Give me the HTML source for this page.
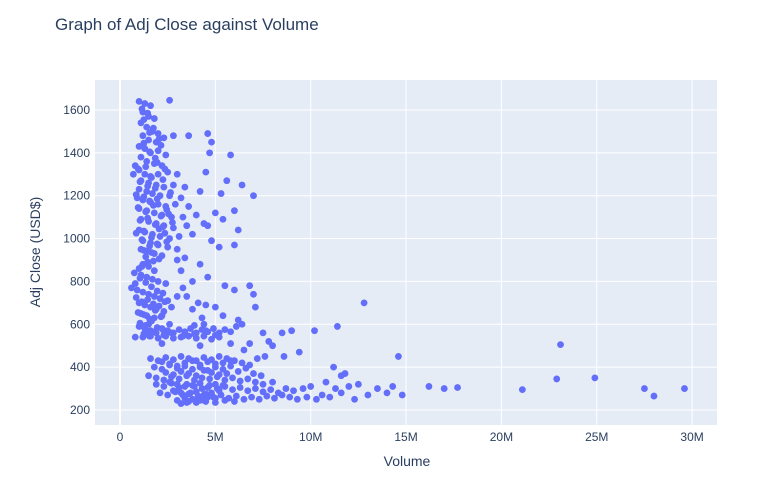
<!DOCTYPE html>
<html><head><meta charset="utf-8"><style>
body{margin:0;background:#fff;font-family:"Liberation Sans",sans-serif}
svg text{font-family:"Liberation Sans",sans-serif;fill:#2a3f5f}
</style></head><body>
<svg id="chart" width="764" height="477">
<rect x="0" y="0" width="764" height="477" fill="#fff"/>
<rect x="95" y="80" width="622" height="345" fill="#e5ecf6"/>
<g id="grid"></g><g id="pts"></g><g id="ticks"></g>
<text x="55" y="30" font-size="17">Graph of Adj Close against Volume</text>
<text x="407" y="466" font-size="14" text-anchor="middle">Volume</text>
<text x="0" y="0" font-size="14" text-anchor="middle" transform="translate(40,252) rotate(-90)">Adj Close (USD$)</text>
</svg>
<script>
const xTicks=[0,5,10,15,20,25,30];
const xTickLabels=["0","5M","10M","15M","20M","25M","30M"];
const yTicks=[200,400,600,800,1000,1200,1400,1600];
const volumesM=[1.0,1.3,1.6,2.6,1.2,1.5,1.8,1.1,1.4,1.7,2.0,1.2,1.5,1.9,2.3,2.8,1.0,1.3,1.6,2.0,2.4,1.1,1.4,1.8,2.2,0.8,1.0,1.3,1.6,2.0,2.5,3.0,0.7,1.1,1.5,1.9,2.3,2.8,3.4,1.0,1.4,1.7,2.1,2.6,3.2,0.9,1.2,1.6,2.0,2.4,2.9,3.6,1.0,1.4,1.8,2.2,2.7,3.3,4.0,1.1,1.5,1.9,2.3,2.8,3.5,4.4,1.0,1.3,1.7,2.1,2.6,3.1,3.8,1.2,1.6,2.0,2.5,3.0,1.1,1.4,1.8,2.2,
3.6,4.6,4.8,4.7,5.8,6.4,7.0,5.6,4.5,4.2,5.3,6.0,5.0,4.6,5.4,6.2,4.8,5.2,6.0,3.4,4.2,3.0,
0.6,0.8,1.0,1.2,1.5,1.8,1.1,1.4,1.7,2.0,2.4,0.9,1.2,1.5,1.8,2.1,2.5,1.0,1.3,1.6,1.9,2.3,2.7,3.0,1.1,1.4,1.8,2.2,3.3,3.8,3.5,4.1,4.5,5.0,5.5,6.0,6.8,7.0,7.1,5.4,4.3,6.2,3.2,4.6,3.8,
1.0,1.3,1.6,1.9,2.2,2.5,2.8,3.1,3.4,3.7,4.0,4.3,4.6,4.9,5.2,5.5,5.8,6.1,0.8,1.2,1.6,2.0,2.4,2.8,3.2,3.6,4.0,4.4,4.8,5.2,1.5,2.6,3.9,4.4,6.4,7.5,8.0,8.5,9.0,10.2,11.4,12.8,7.8,6.8,9.4,8.6,2.2,4.2,5.8,6.5,
1.6,2.0,2.4,2.8,3.2,3.6,4.0,4.4,4.8,5.2,5.6,6.0,6.4,6.8,7.2,7.6,
1.8,2.2,2.6,3.0,3.4,3.8,4.2,4.6,5.0,5.4,5.8,6.2,6.6,7.0,7.4,
1.5,1.9,2.3,2.7,3.1,3.5,3.9,4.3,4.7,5.1,5.5,5.9,6.3,6.7,7.1,7.5,8.0,
1.9,2.3,2.7,3.1,3.5,3.9,4.3,4.7,5.1,5.5,5.9,6.3,6.7,7.1,7.5,7.9,8.3,8.7,9.1,
2.1,2.5,2.9,3.3,3.7,4.1,4.5,4.9,5.3,5.7,6.1,6.5,6.9,7.3,7.7,8.1,8.5,8.9,9.3,
3.0,3.5,4.0,4.5,5.0,5.5,6.0,3.2,9.6,10.0,10.3,10.6,11.0,11.3,11.6,12.0,11.8,11.2,11.6,12.5,13.0,13.5,14.0,14.3,14.8,14.6,10.8,9.8,12.3,
16.2,17.0,17.7,21.1,22.9,23.1,24.9,27.5,28.0,29.6,
1.15,1.45,1.75,2.05,1.25,1.55,1.85,2.15,0.95,1.35,1.65,1.95,2.35,1.05,1.45,1.85,2.25,2.65,0.85,1.25,1.55,1.95,2.45,0.95,1.35,1.75,2.15,2.55,1.05,1.45,1.85,2.25,2.75,0.85,1.25,1.65,2.05,2.45,1.15,1.55,1.95,2.35,1.25,1.65,2.05,1.35,1.75,1.25,1.55,
0.75,1.05,1.35,1.65,1.95,2.25,0.85,1.15,1.45,1.75,2.05,2.35,0.95,1.25,1.55,1.85,2.15,1.05,1.35,1.65,1.95,2.25,1.25,1.55,1.85,1.15,1.45,
1.4,1.8,2.3,2.7,3.3,3.9,4.5,5.0,
2.2,2.6,3.0,3.4,3.8,4.2,4.6,5.0,5.4,5.8,2.4,2.8,3.2,3.6,4.0,4.4,4.8,5.2,5.6,2.6,3.0,3.4,3.8,4.2,4.6,5.0,5.4,2.8,3.2,3.6,4.0,4.4,4.8,5.2,3.4,3.8,4.2,4.6,5.0,3.6,4.0,4.4];
const prices=[1640,1630,1620,1645,1590,1570,1560,1540,1520,1500,1490,1480,1460,1450,1470,1480,1430,1420,1400,1410,1390,1380,1360,1350,1340,1340,1320,1300,1290,1300,1310,1300,1300,1270,1260,1250,1240,1250,1240,1230,1220,1210,1200,1200,1190,1190,1180,1170,1160,1150,1160,1150,1140,1130,1120,1110,1100,1100,1110,1090,1080,1070,1060,1050,1060,1070,1040,1030,1020,1010,1000,1010,1020,990,980,970,960,950,950,940,930,920,
1480,1490,1450,1400,1390,1250,1200,1270,1310,1220,1210,1130,1120,1060,1090,1040,990,960,970,910,880,900,
770,790,860,880,870,850,830,820,810,800,790,760,750,740,730,720,710,700,690,680,670,660,680,730,650,640,630,640,770,800,730,700,690,680,780,760,780,740,680,640,630,620,850,820,670,
590,580,570,560,580,570,560,575,565,580,560,575,565,580,560,575,565,590,540,540,545,535,545,535,540,545,535,545,530,540,600,600,595,600,600,560,500,560,570,570,590,700,520,510,470,450,510,500,510,480,
440,430,445,435,450,440,430,445,435,450,440,430,420,410,440,450,
400,390,410,395,405,390,400,385,400,390,405,380,395,370,360,
360,350,340,355,345,360,340,350,345,355,340,350,335,345,330,320,330,
320,310,325,305,320,310,300,315,300,310,295,305,290,300,285,295,280,300,290,
280,270,285,270,280,265,275,260,270,255,265,250,260,250,265,255,270,260,250,
245,235,250,240,235,245,240,230,300,310,250,270,260,300,280,310,370,400,360,320,270,300,280,310,270,450,330,260,250,
310,300,305,295,345,505,350,300,265,300,
1605,1585,1515,1465,1445,1405,1375,1435,1325,1335,1285,1355,1325,1265,1245,1235,1275,1215,1205,1195,1175,1185,1135,1145,1125,1155,1105,1115,1085,1095,1065,1055,1075,1025,1035,1005,1045,985,995,965,975,1025,945,935,905,915,895,1555,1495,
840,815,795,775,755,745,725,705,715,695,685,705,655,645,625,665,635,605,595,615,585,575,555,545,565,870,890,
555,565,550,560,545,555,570,550,
425,415,405,420,430,410,425,415,420,430,375,365,380,370,360,385,375,365,370,330,320,310,315,325,305,320,315,290,280,275,285,270,280,290,255,250,245,260,255,240,235,245];
const NS="http://www.w3.org/2000/svg";
function xs(v){return 120+v*19.07;}
function ys(v){return 410-(v-200)*0.2143;}
const grid=document.getElementById('grid'),tk=document.getElementById('ticks'),pts=document.getElementById('pts');
xTicks.forEach((t,i)=>{
 const l=document.createElementNS(NS,'line');
 
 
 l.setAttribute('x1',xs(t));l.setAttribute('x2',xs(t));l.setAttribute('y1',80);l.setAttribute('y2',425);
 l.setAttribute('stroke','#fff');l.setAttribute('stroke-width',t===0?2:1);grid.appendChild(l);
 const tx=document.createElementNS(NS,'text');
 
 
 tx.setAttribute('x',xs(t));tx.setAttribute('y',441);tx.setAttribute('font-size','12');tx.setAttribute('text-anchor','middle');
 tx.textContent=xTickLabels[i];tk.appendChild(tx);
});
yTicks.forEach(t=>{
 const l=document.createElementNS(NS,'line');
 
 
 l.setAttribute('x1',95);l.setAttribute('x2',717);l.setAttribute('y1',ys(t));l.setAttribute('y2',ys(t));
 l.setAttribute('stroke','#fff');grid.appendChild(l);
 const tx=document.createElementNS(NS,'text');
 
 
 tx.setAttribute('x',90);tx.setAttribute('y',ys(t)+4);tx.setAttribute('font-size','12');tx.setAttribute('text-anchor','end');
 tx.textContent=t;tk.appendChild(tx);
});
volumesM.forEach((v,i)=>{
 const c=document.createElementNS(NS,'circle');
 
 
 c.setAttribute('cx',xs(v));c.setAttribute('cy',ys(prices[i]));c.setAttribute('r',3.4);c.setAttribute('fill','#636efa');
 pts.appendChild(c);
});
</script>
</body></html>
